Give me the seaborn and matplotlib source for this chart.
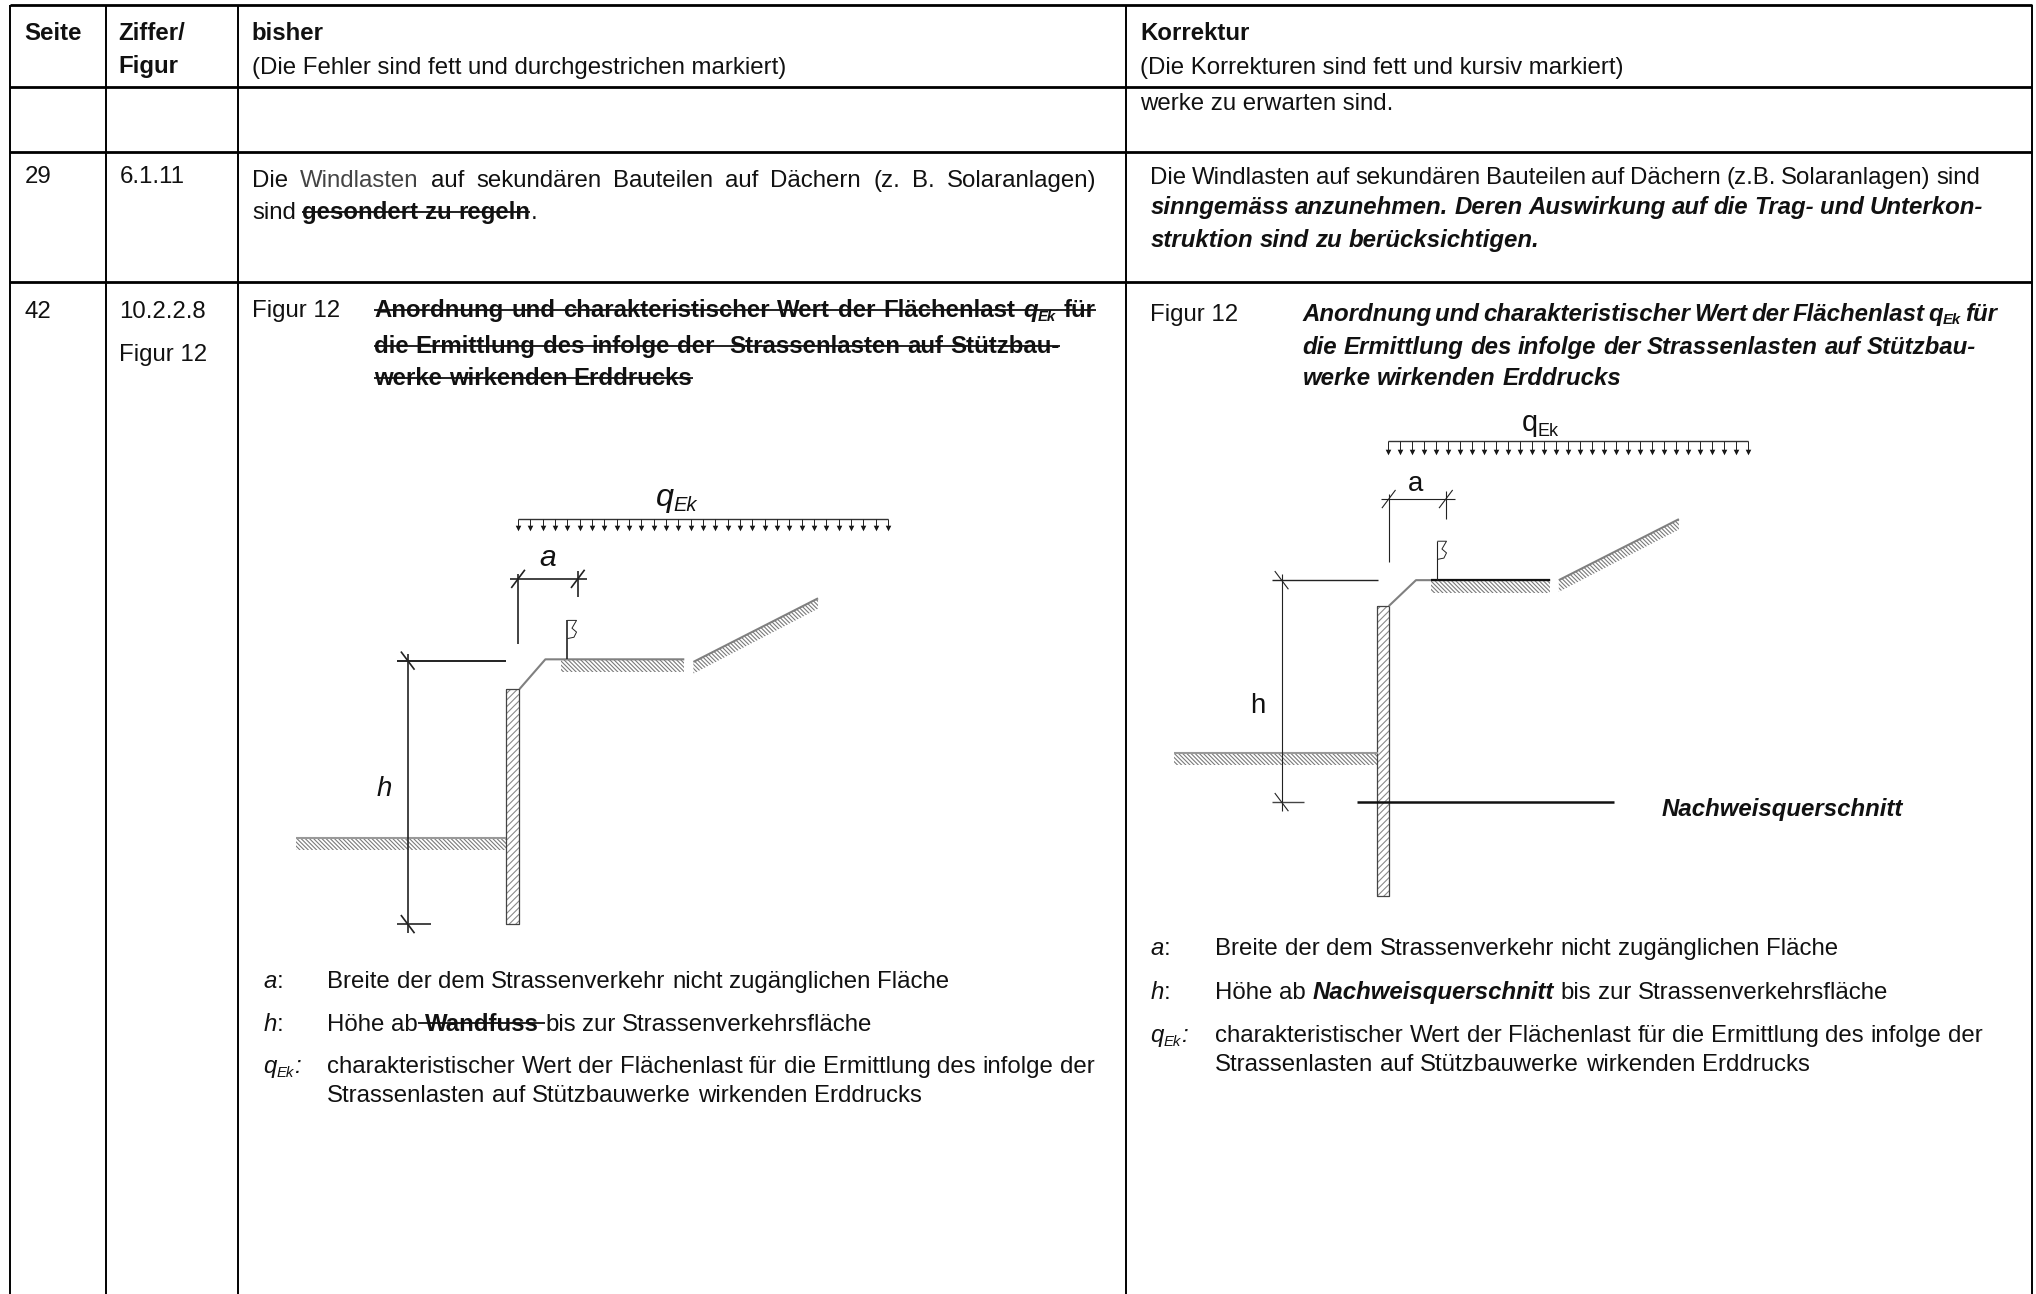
import matplotlib
matplotlib.use("Agg")
import matplotlib.pyplot as plt
from matplotlib.patches import Polygon
import numpy as np
import pandas as pd
import seaborn as sns

sns.set_theme(style="white")
plt.rcParams['font.family'] = ['Liberation Sans', 'DejaVu Sans']
plt.rcParams['hatch.linewidth'] = 0.8

# ---- table content -------------------------------------------------------
col_lines = [8, 82, 183, 867, 1565]
row_lines = [4, 67, 117, 217]
header = [(19, 31, "Seite", "b"), (91, 31, "Ziffer/", "b"), (91, 56, "Figur", "b"),
          (194, 31, "bisher", "b"), (194, 57, "(Die Fehler sind fett und durchgestrichen markiert)", "r"),
          (878, 31, "Korrektur", "b"), (878, 57, "(Die Korrekturen sind fett und kursiv markiert)", "r")]
plain_cells = [(878, 85, "werke zu erwarten sind."),
               (19, 141, "29"), (92, 141, "6.1.11"),
               (19, 245, "42"), (92, 245, "10.2.2.8"), (92, 278, "Figur 12"),
               (194, 244, "Figur 12"), (886, 247, "Figur 12")]
left_wind = [(194, 144, 844, [("Die ", "r"), ("Windlasten", "g"), (" auf sekundären Bauteilen auf Dächern (z. B. Solaranlagen)", "r")]),
             (194, 169, None, [("sind ", "r"), ("gesondert zu regeln", "bs"), (".", "r")])]
right_wind = [(886, 142, 1525, [("Die Windlasten auf sekundären Bauteilen auf Dächern (z.B. Solaranlagen) sind", "r")]),
              (886, 165, 1527, [("sinngemäss anzunehmen. Deren Auswirkung auf die Trag- und Unterkon-", "bi")]),
              (886, 190, None, [("struktion sind zu berücksichtigen.", "bi")])]
left_title = [(288, 244, 844, [("Anordnung und charakteristischer Wert der Flächenlast ", "bs"), ("q", "bis"), ("Ek", "sbis"), (" ", "bs"), ("für", "bs")]),
              (288, 272, 816, [("die Ermittlung des infolge der  Strassenlasten auf Stützbau-", "bs")]),
              (288, 297, None, [("werke wirkenden Erddrucks", "bs")])]
right_title = [(1003, 247, 1538, [("Anordnung und charakteristischer Wert der Flächenlast q", "bi"), ("Ek", "sbi"), (" für", "bi")]),
               (1003, 273, 1522, [("die Ermittlung des infolge der Strassenlasten auf Stützbau-", "bi")]),
               (1003, 297, None, [("werke wirkenden Erddrucks", "bi")])]
left_legend = [(203, 761, [("a", "i"), (":", "r")]), (203, 794, [("h", "i"), (":", "r")]), (203, 827, [("q", "i"), ("Ek", "si"), (":", "i")])]
left_legend_text = [(252, 761, [("Breite der dem Strassenverkehr nicht zugänglichen Fläche", "r")]),
                    (252, 794, [("Höhe ab", "r"), (" Wandfuss ", "bs"), ("bis zur Strassenverkehrsfläche", "r")]),
                    (252, 827, [("charakteristischer Wert der Flächenlast für die Ermittlung des infolge der", "r")]),
                    (252, 849, [("Strassenlasten auf Stützbauwerke wirkenden Erddrucks", "r")])]
right_legend = [(886, 736, [("a", "i"), (":", "r")]), (886, 770, [("h", "i"), (":", "r")]), (886, 803, [("q", "i"), ("Ek", "si"), (":", "i")])]
right_legend_text = [(936, 736, [("Breite der dem Strassenverkehr nicht zugänglichen Fläche", "r")]),
                     (936, 770, [("Höhe ab ", "r"), ("Nachweisquerschnitt", "bi"), (" bis zur Strassenverkehrsfläche", "r")]),
                     (936, 803, [("charakteristischer Wert der Flächenlast für die Ermittlung des infolge der", "r")]),
                     (936, 825, [("Strassenlasten auf Stützbauwerke wirkenden Erddrucks", "r")])]

# ---- figure --------------------------------------------------------------
W, H = 2036, 1294
fig = plt.figure(figsize=(W / 100, H / 100), dpi=100, facecolor="white")
ax = fig.add_axes([0, 0, 1, 1])
ax.set_xlim(0, 1568)
ax.set_ylim(997, 0)
ax.axis("off")
renderer = fig.canvas.get_renderer()
PX = 1568 / W
FS = 17.3
INK = "#111111"


def seg(xs, ys, lw=1.0, color="black"):
    df = pd.DataFrame({"x": xs, "y": ys, "s": 0})
    sns.lineplot(data=df, x="x", y="y", units="s", estimator=None, sort=False,
                 ax=ax, color=color, lw=lw, legend=False, solid_capstyle="butt")
    ax.set_xlim(0, 1568)
    ax.set_ylim(997, 0)


def kw(style, scale=1.0):
    d = dict(fontsize=FS * scale, color=INK, fontweight="normal", fontstyle="normal")
    if style[0] == "s" and len(style) > 1:
        d["fontsize"] = FS * scale * 0.62
    if "b" in style:
        d["fontweight"] = "bold"
    if "i" in style:
        d["fontstyle"] = "italic"
    if style == "g":
        d["color"] = "#444444"
    return d


def width(txt, style, scale=1.0):
    t = ax.text(0, 0, txt, **kw(style, scale))
    w = t.get_window_extent(renderer).width * PX
    t.remove()
    return w


def space_w(style, scale=1.0):
    return width("a a", style, scale) - width("aa", style, scale)


def tokens(parts):
    out = []
    for txt, st in parts:
        buf = ""
        for ch in txt:
            if ch == " ":
                if buf:
                    out.append((buf, st))
                    buf = ""
                out.append((" ", st))
            else:
                buf += ch
        if buf:
            out.append((buf, st))
    return out


def runs(x, y, parts, right=None, scale=1.0):
    toks = tokens(parts)
    widths = [space_w(s, scale) if t == " " else width(t, s, scale) for t, s in toks]
    extra = 0
    if right is not None:
        n = sum(1 for t, _ in toks if t == " ")
        extra = (right - x - sum(widths)) / max(n, 1)
    cx = x
    for (t, s), w in zip(toks, widths):
        w2 = w + extra if t == " " else w
        if t != " ":
            dy = 3 * scale if (s[0] == "s" and len(s) > 1) else 0
            ax.text(cx, y + dy, t, va="baseline", ha="left", **kw(s, scale))
        if s.endswith("bs") or s == "bis" or s == "sbis":
            seg([cx, cx + w2], [y - 5.5, y - 5.5], lw=1.3, color=INK)
        cx += w2


def hatch_poly(pts, hatch, color="#7a7a7a"):
    ax.add_patch(Polygon(pts, closed=True, facecolor="none", edgecolor=color, hatch=hatch, lw=0))


def tick(x, y, sign=1, r=7, lw=0.9):
    seg([x - r * 0.75, x + r * 0.75], [y + sign * r, y - sign * r], lw=lw, color="#222222")


def load(x0, x1, ytop, ybot, n):
    seg([x0, x1], [ytop, ytop], lw=1.0, color="#333333")
    xs = np.linspace(x0, x1, n)
    for xv in xs:
        seg([xv, xv], [ytop, ybot - 2], lw=0.7, color="#222222")
    sns.scatterplot(x=xs, y=np.full(n, ybot - 2), marker="v", s=16, color="#111111", linewidth=0, ax=ax, legend=False)


def beta(x, y0, y1, lw):
    seg([x, x], [y1, y0], lw=lw, color="#222222")
    seg([x, x + 7, x + 3.5, x + 7, x + 5, x], [y0, y0, y0 + 6, y0 + 9, y0 + 13, y0 + 14], lw=0.7, color="#222222")


def diagram(d):
    load(d["load"][0], d["load"][1], d["load"][2], d["load"][3], 31)
    dl = d["dim"]
    wx0, wx1, wy0, wy1 = d["wall"]
    ax.add_patch(Polygon([(wx0, wy0), (wx1, wy0), (wx1, wy1), (wx0, wy1)], closed=True,
                         facecolor="white", edgecolor="#8a8a8a", hatch="/////", lw=0, zorder=2))
    seg([wx0, wx1, wx1, wx0, wx0], [wy0, wy0, wy1, wy1, wy0], lw=0.9, color="#444444")
    cx, cy = d["crown"]
    seg([wx1, cx, d["plat"][1]], [wy0, cy, cy], lw=1.5, color="#808080")
    hatch_poly([(d["plat"][0], cy), (d["plat"][1], cy), (d["plat"][1], cy + 10), (d["plat"][0], cy + 10)], "\\\\\\\\\\\\\\\\")
    if d["black"]:
        seg([d["plat"][0], d["plat"][1]], [cy, cy], lw=1.6, color="#111111")
    sx0, sy0, sx1, sy1 = d["slope"]
    seg([sx0, sx1], [sy0, sy1], lw=1.5, color="#808080")
    hatch_poly([(sx0, sy0), (sx1, sy1), (sx1, sy1 + 8), (sx0, sy0 + 9)], "\\\\\\\\\\\\\\\\")
    gx0, gx1, gy = d["ground"]
    seg([gx0, gx1], [gy, gy], lw=1.5, color="#999999")
    hatch_poly([(gx0, gy), (gx1, gy), (gx1, gy + 9), (gx0, gy + 9)], "\\\\\\\\\\\\\\\\")
    ax0, ax1, ay = d["a"]
    seg([ax0 - 6, ax1 + 7], [ay, ay], lw=dl, color="#222222")
    seg([ax0, ax0], [ay - 4, d["a_end"][0]], lw=dl, color="#222222")
    seg([ax1, ax1], [ay - 6, d["a_end"][1]], lw=dl, color="#222222")
    tick(ax0, ay, 1, lw=dl)
    tick(ax1, ay, 1, lw=dl)
    hx, hy0, hy1, hl0, hl1, hr = d["h"]
    seg([hx, hx], [hy0 - 5, hy1 + 7], lw=dl, color="#222222")
    seg([hl0, hl1], [hy0, hy0], lw=dl + 0.2, color="#222222")
    seg([hl0, hr], [hy1, hy1], lw=dl + 0.2, color="#444444")
    tick(hx, hy0, -1, lw=dl)
    tick(hx, hy1, -1, lw=dl)
    beta(d["beta"][0], d["beta"][1], d["beta"][2], dl)


left_diagram = dict(load=(399, 684, 400, 409), wall=(390, 400, 531, 712), crown=(420, 508), plat=(432, 527),
                    black=False, slope=(534, 510, 630, 461), ground=(228, 390, 646),
                    a=(399, 445, 446), a_end=(496, 460), h=(314, 509, 712, 306, 390, 332),
                    beta=(437, 478, 508), dim=1.2)
right_diagram = dict(load=(1069, 1346, 340, 350), wall=(1060.5, 1069.5, 467, 690), crown=(1090.5, 447), plat=(1102, 1194),
                     black=True, slope=(1200.5, 447, 1293, 400), ground=(904, 1061, 580.5),
                     a=(1069.5, 1113.5, 384.5), a_end=(433, 400), h=(987, 447, 618, 980, 1061, 1004),
                     beta=(1107, 417, 447), dim=0.8)

# ---- grid ----------------------------------------------------------------
for xv in col_lines:
    seg([xv, xv], [row_lines[0], 997], lw=1.4)
for yv in row_lines:
    seg([col_lines[0], col_lines[-1]], [yv, yv], lw=2.0)

# ---- texts ---------------------------------------------------------------
for x, y, s, st in header:
    ax.text(x, y, s, va="baseline", **kw(st))
for x, y, s in plain_cells:
    ax.text(x, y, s, va="baseline", **kw("r"))
for group in (left_wind, right_wind, left_title, right_title):
    for x, y, r, parts in group:
        runs(x, y, parts, r)
for group in (left_legend, left_legend_text, right_legend, right_legend_text):
    for x, y, parts in group:
        runs(x, y, parts)

# ---- diagrams ------------------------------------------------------------
diagram(left_diagram)
diagram(right_diagram)
seg([1045, 1243], [618, 618], lw=1.8, color="#111111")
ax.text(1280, 629, "Nachweisquerschnitt", va="baseline", **kw("bi"))

for x, y, parts, sc in [(505, 390, [("q", "i"), ("Ek", "si")], 1.35), (415, 436, [("a", "i")], 1.25), (290, 613, [("h", "i")], 1.15),
                        (1172, 332, [("q", "r"), ("Ek", "sr")], 1.2), (1084, 378, [("a", "r")], 1.15), (963, 549, [("h", "r")], 1.15)]:
    runs(x, y, parts, None, sc)

fig.savefig("out.png", dpi=100, facecolor="white")
